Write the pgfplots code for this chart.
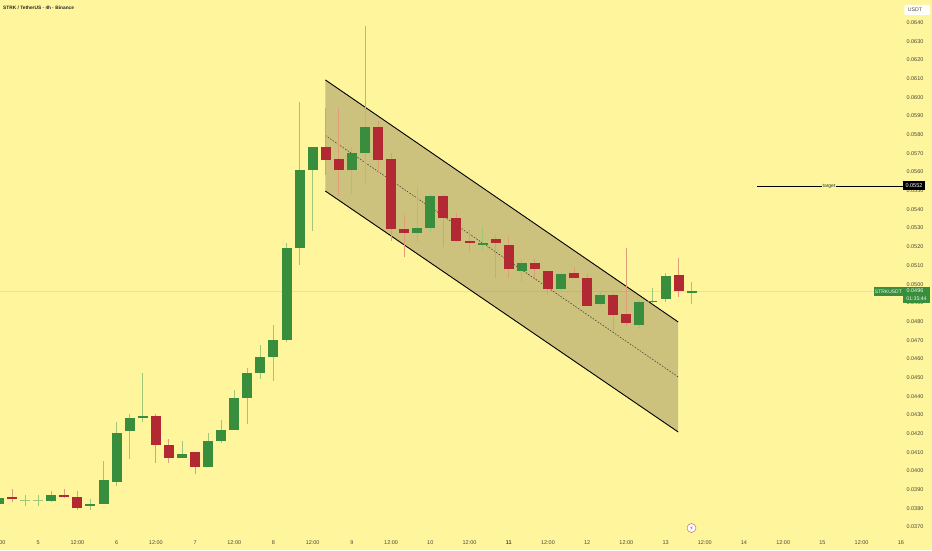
\documentclass[border=0pt]{standalone}
\usepackage{pgfplots}
\usepackage{pgfplotstable}
\usepackage{fontspec}
\pgfplotsset{compat=1.18}
\setmainfont{Liberation Sans}
\newfontfamily\djv{DejaVu Sans}
\definecolor{bgc}{HTML}{FFF59D}
\definecolor{cg}{HTML}{388E3C}
\definecolor{cr}{HTML}{B22833}
\definecolor{cw}{HTML}{A0C678}
\definecolor{crw}{HTML}{E09E78}
\definecolor{chan}{HTML}{CCC27E}
\definecolor{txt}{HTML}{4A4A3A}
\definecolor{pline}{HTML}{E9E48E}
\pgfplotstableread{
i o h l c
0 0.03818 0.03868 0.03809 0.03850
4 0.03838 0.03890 0.03831 0.03868
7 0.03809 0.03848 0.03789 0.03818
8 0.03818 0.04050 0.03818 0.03947
9 0.03938 0.04259 0.03918 0.04198
10 0.04209 0.04300 0.04059 0.04279
11 0.04279 0.04520 0.04259 0.04289
14 0.04068 0.04159 0.04068 0.04088
16 0.04018 0.04198 0.04018 0.04159
17 0.04159 0.04270 0.04148 0.04218
18 0.04218 0.04430 0.04218 0.04389
19 0.04389 0.04548 0.04248 0.04520
20 0.04520 0.04671 0.04489 0.04608
21 0.04608 0.04778 0.04480 0.04698
22 0.04696 0.05219 0.04687 0.05189
23 0.05189 0.05970 0.05099 0.05608
24 0.05608 0.05729 0.05281 0.05729
27 0.05608 0.05729 0.05479 0.05699
28 0.05699 0.06379 0.05531 0.05840
32 0.05269 0.05518 0.05221 0.05299
33 0.05299 0.05478 0.05269 0.05469
37 0.05208 0.05308 0.05180 0.05219
40 0.05069 0.05130 0.05010 0.05108
43 0.04969 0.05069 0.04960 0.05049
46 0.04889 0.04960 0.04880 0.04939
49 0.04778 0.04912 0.04758 0.04900
50 0.04900 0.04978 0.04889 0.04908
51 0.04919 0.05058 0.04900 0.05039
53 0.04949 0.05008 0.04889 0.04958
}\green
\pgfplotstableread{
i o h l c
1 0.03859 0.03899 0.03829 0.03848
5 0.03870 0.03899 0.03850 0.03857
6 0.03859 0.03890 0.03788 0.03798
12 0.04289 0.04300 0.04039 0.04137
13 0.04137 0.04169 0.04039 0.04068
15 0.04098 0.04098 0.03979 0.04018
25 0.05729 0.05938 0.05581 0.05660
26 0.05668 0.05938 0.05470 0.05608
29 0.05840 0.05870 0.05590 0.05660
30 0.05668 0.05699 0.05229 0.05290
31 0.05290 0.05367 0.05140 0.05269
34 0.05469 0.05478 0.05197 0.05349
35 0.05349 0.05379 0.05221 0.05229
36 0.05229 0.05287 0.05170 0.05219
38 0.05238 0.05260 0.05031 0.05219
39 0.05208 0.05249 0.05031 0.05079
41 0.05108 0.05130 0.05030 0.05079
42 0.05069 0.05069 0.04940 0.04969
44 0.05058 0.05089 0.05028 0.05028
45 0.05028 0.05049 0.04880 0.04880
47 0.04939 0.04948 0.04748 0.04830
48 0.04839 0.05189 0.04771 0.04789
52 0.05047 0.05138 0.04928 0.04958
}\red
\pgfplotstableread{
i o h l c
2 0.03838 0.03868 0.03809 0.03842
3 0.03838 0.03868 0.03809 0.03842
}\doji
\begin{document}
\begin{tikzpicture}[x=1pt,y=1pt]
\path[use as bounding box] (0,0) rectangle (932,550);
\begin{axis}[
  at={(0,0)},anchor=south west,
  scale only axis,width=932pt,height=550pt,
  xmin=0.0765,xmax=71.386,ymin=0.035734,ymax=0.065178,
  axis background/.style={fill=bgc},
  axis line style={draw=none},
  major tick length=0pt,
  tick style={draw=none},
  clip=true,
  xtick={3,6,9,12,15,18,21,24,27,30,33,36,39,42,45,48,51,54,57,60,63,66,69},
  xticklabels={5,12:00,6,12:00,7,12:00,8,12:00,9,12:00,10,12:00,\textbf{11},12:00,12,12:00,13,12:00,14,12:00,15,12:00,16},
  x tick label style={font=\fontsize{5.5}{6.5}\selectfont,text=txt,anchor=center,yshift=7pt,inner sep=0pt},
  ytick={0.037,0.038,0.039,0.040,0.041,0.042,0.043,0.044,0.045,0.046,0.047,0.048,0.049,0.050,0.051,0.052,0.053,0.054,0.055,0.056,0.057,0.058,0.059,0.060,0.061,0.062,0.063,0.064},
  yticklabels={0.0370,0.0380,0.0390,0.0400,0.0410,0.0420,0.0430,0.0440,0.0450,0.0460,0.0470,0.0480,0.0490,0.0500,0.0510,0.0520,0.0530,0.0540,0.0550,0.0560,0.0570,0.0580,0.0590,0.0600,0.0610,0.0620,0.0630,0.0640},
  yticklabel pos=right,
  y tick label style={font=\fontsize{5.5}{6.5}\selectfont,text=txt,anchor=center,xshift=-17pt,yshift=-0.6pt,inner sep=0pt},
  scaled y ticks=false,
]
% channel
\addplot[fill=chan,draw=none,forget plot] coordinates {(24.97,0.05905) (24.97,0.06090) (51.97,0.04794) (51.97,0.04205) (24.97,0.05495)} -- cycle;
% current price line (drawn under the channel's border lines)
\addplot[pline,line width=0.5pt,forget plot] coordinates {(0.08,0.04957) (36.3,0.04957)};
\addplot[pline,line width=0.5pt,forget plot] coordinates {(48.6,0.04957) (67,0.04957)};
\addplot[chan!85!black!90!bgc,line width=0.4pt,opacity=0.5,forget plot] coordinates {(36.3,0.04957) (48.6,0.04957)};
\addplot[black,line width=0.9pt,forget plot] coordinates {(24.97,0.06090) (51.97,0.04794)};
\addplot[black,line width=0.9pt,forget plot] coordinates {(24.97,0.05495) (51.97,0.04205)};
\addplot[black!65!chan,line width=0.6pt,dash pattern=on 1.5pt off 1.5pt,forget plot] coordinates {(24.97,0.05793) (51.97,0.04500)};
\addplot[black,line width=0.9pt,forget plot] coordinates {(58,0.05520) (69.3,0.05520)};
% wicks
\addplot[draw=none,mark=none,forget plot,error bars/.cd,y dir=plus,y explicit,error mark=none,error bar style={draw=cw,line width=0.9pt}] table[x=i,y=l,y error expr=\thisrow{h}-\thisrow{l}] {\green};
\addplot[draw=none,mark=none,forget plot,error bars/.cd,y dir=plus,y explicit,error mark=none,error bar style={draw=cw,line width=0.9pt}] table[x=i,y=l,y error expr=\thisrow{h}-\thisrow{l}] {\doji};
\addplot[draw=none,mark=none,forget plot,error bars/.cd,y dir=plus,y explicit,error mark=none,error bar style={draw=crw,line width=0.9pt}] table[x=i,y=l,y error expr=\thisrow{h}-\thisrow{l}] {\red};
% bodies
\addplot[draw=none,mark=none,forget plot,error bars/.cd,y dir=plus,y explicit,error mark=none,error bar style={draw=cg,line width=10pt}] table[x=i,y=o,y error expr=\thisrow{c}-\thisrow{o}] {\green};
\addplot[draw=none,mark=none,forget plot,error bars/.cd,y dir=plus,y explicit,error mark=none,error bar style={draw=cr,line width=10pt}] table[x=i,y=c,y error expr=\thisrow{o}-\thisrow{c}] {\red};
\addplot[draw=none,mark=none,forget plot,error bars/.cd,y dir=plus,y explicit,error mark=none,error bar style={draw=cw,line width=10pt}] table[x=i,y=o,y error expr=\thisrow{c}-\thisrow{o}] {\doji};
\end{axis}
% annotations, in picture points (y measured from the bottom)
\node[anchor=west,inner sep=0pt,font=\fontsize{4.8}{6}\selectfont\bfseries,text=black!85] at (3,542) {STRK / TetherUS · 4h · Binance};
\node[anchor=center,inner sep=0pt,font=\fontsize{5.5}{6.5}\selectfont,text=txt] at (2.5,7) {00};
\fill[white,rounded corners=1.2pt] (904.3,535) rectangle (930,545);
\node[anchor=center,inner sep=0pt,font=\fontsize{5.2}{6.2}\selectfont,text=txt] at (915,540) {USDT};
\node[anchor=center,fill=bgc,inner sep=1pt,font=\fontsize{5}{6}\selectfont,text=black!80] at (829,364) {target};
\fill[black] (903,360) rectangle (925,368.5);
\node[anchor=center,inner sep=0pt,font=\fontsize{5.5}{6.5}\selectfont,text=white] at (914,364.2) {0.0552};
\fill[cg] (874,254.5) rectangle (902.7,263);
\node[anchor=center,inner sep=0pt,font=\fontsize{5}{6}\selectfont,text=white!90!cg] at (888.4,258.7) {STRKUSDT};
\fill[cg] (903.3,247.3) rectangle (930,263);
\node[anchor=center,inner sep=0pt,font=\fontsize{5.5}{6.5}\selectfont,text=white!90!cg] at (915,259) {0.0496};
\node[anchor=center,inner sep=0pt,font=\fontsize{5.2}{6.2}\selectfont,text=white!90!cg] at (916.5,251.3) {01:35:44};
\draw[fill=white,draw=cr!70!white,line width=0.5pt] (691.5,22) circle (4.5);
\node[anchor=center,inner sep=0pt,font=\djv\fontsize{5.5}{6}\selectfont,text=black!75] at (691.5,22) {⚡};
\end{tikzpicture}
\end{document}
